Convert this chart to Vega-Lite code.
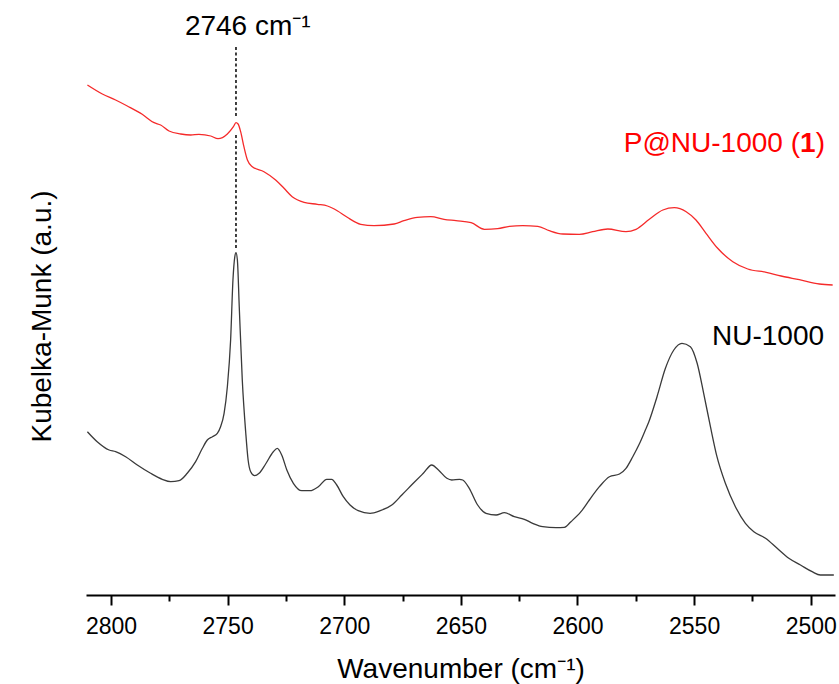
{
  "$schema": "https://vega.github.io/schema/vega-lite/v6.json",
  "autosize": {"type": "none"},
  "padding": {"left": 86, "top": 10, "right": 4, "bottom": 89},
  "width": 749,
  "height": 585,
  "background": "white",
  "config": {"font": "Liberation Sans", "view": {"stroke": null}},
  "datasets": {
    "spectra": [
      {"series": "NU-1000", "wn": 2810.1, "ku": 163.3},
      {"series": "NU-1000", "wn": 2805.9, "ku": 153.3},
      {"series": "NU-1000", "wn": 2800.8, "ku": 145},
      {"series": "NU-1000", "wn": 2798.0, "ku": 143.3},
      {"series": "NU-1000", "wn": 2793.7, "ku": 138.3},
      {"series": "NU-1000", "wn": 2788.7, "ku": 130},
      {"series": "NU-1000", "wn": 2783.0, "ku": 121.7},
      {"series": "NU-1000", "wn": 2778.0, "ku": 115.7},
      {"series": "NU-1000", "wn": 2774.4, "ku": 113.3},
      {"series": "NU-1000", "wn": 2770.8, "ku": 114.3},
      {"series": "NU-1000", "wn": 2767.3, "ku": 121.7},
      {"series": "NU-1000", "wn": 2763.7, "ku": 133.3},
      {"series": "NU-1000", "wn": 2760.8, "ku": 146.7},
      {"series": "NU-1000", "wn": 2758.7, "ku": 155},
      {"series": "NU-1000", "wn": 2756.5, "ku": 158.3},
      {"series": "NU-1000", "wn": 2754.4, "ku": 161.7},
      {"series": "NU-1000", "wn": 2753.0, "ku": 168.3},
      {"series": "NU-1000", "wn": 2751.5, "ku": 181.7},
      {"series": "NU-1000", "wn": 2750.1, "ku": 208.3},
      {"series": "NU-1000", "wn": 2748.7, "ku": 255},
      {"series": "NU-1000", "wn": 2747.7, "ku": 315},
      {"series": "NU-1000", "wn": 2746.9, "ku": 338.3},
      {"series": "NU-1000", "wn": 2746.4, "ku": 342.3},
      {"series": "NU-1000", "wn": 2745.8, "ku": 335},
      {"series": "NU-1000", "wn": 2745.0, "ku": 288.3},
      {"series": "NU-1000", "wn": 2743.7, "ku": 215},
      {"series": "NU-1000", "wn": 2742.2, "ku": 161.7},
      {"series": "NU-1000", "wn": 2741.2, "ku": 135},
      {"series": "NU-1000", "wn": 2740.1, "ku": 123.3},
      {"series": "NU-1000", "wn": 2738.4, "ku": 119.3},
      {"series": "NU-1000", "wn": 2736.5, "ku": 121.7},
      {"series": "NU-1000", "wn": 2733.7, "ku": 131},
      {"series": "NU-1000", "wn": 2730.4, "ku": 143.3},
      {"series": "NU-1000", "wn": 2728.7, "ku": 146.7},
      {"series": "NU-1000", "wn": 2726.8, "ku": 140},
      {"series": "NU-1000", "wn": 2724.6, "ku": 125},
      {"series": "NU-1000", "wn": 2721.8, "ku": 111.7},
      {"series": "NU-1000", "wn": 2718.2, "ku": 104.3},
      {"series": "NU-1000", "wn": 2714.7, "ku": 104.3},
      {"series": "NU-1000", "wn": 2711.1, "ku": 108.3},
      {"series": "NU-1000", "wn": 2707.5, "ku": 115.7},
      {"series": "NU-1000", "wn": 2705.4, "ku": 115.7},
      {"series": "NU-1000", "wn": 2703.2, "ku": 110},
      {"series": "NU-1000", "wn": 2700.4, "ku": 98.3},
      {"series": "NU-1000", "wn": 2697.5, "ku": 90},
      {"series": "NU-1000", "wn": 2694.0, "ku": 84.3},
      {"series": "NU-1000", "wn": 2688.9, "ku": 81.7},
      {"series": "NU-1000", "wn": 2684.6, "ku": 84.3},
      {"series": "NU-1000", "wn": 2679.6, "ku": 90},
      {"series": "NU-1000", "wn": 2675.3, "ku": 100},
      {"series": "NU-1000", "wn": 2670.4, "ku": 111.7},
      {"series": "NU-1000", "wn": 2666.1, "ku": 121.7},
      {"series": "NU-1000", "wn": 2662.5, "ku": 130},
      {"series": "NU-1000", "wn": 2659.6, "ku": 125},
      {"series": "NU-1000", "wn": 2656.0, "ku": 116.7},
      {"series": "NU-1000", "wn": 2653.9, "ku": 115},
      {"series": "NU-1000", "wn": 2650.6, "ku": 115.7},
      {"series": "NU-1000", "wn": 2649.2, "ku": 115},
      {"series": "NU-1000", "wn": 2646.4, "ku": 106.7},
      {"series": "NU-1000", "wn": 2642.8, "ku": 90},
      {"series": "NU-1000", "wn": 2639.2, "ku": 81.7},
      {"series": "NU-1000", "wn": 2634.9, "ku": 80},
      {"series": "NU-1000", "wn": 2631.3, "ku": 82.3},
      {"series": "NU-1000", "wn": 2627.1, "ku": 78.3},
      {"series": "NU-1000", "wn": 2622.8, "ku": 75.7},
      {"series": "NU-1000", "wn": 2619.2, "ku": 71.7},
      {"series": "NU-1000", "wn": 2614.9, "ku": 68.3},
      {"series": "NU-1000", "wn": 2609.2, "ku": 67.3},
      {"series": "NU-1000", "wn": 2605.6, "ku": 67.7},
      {"series": "NU-1000", "wn": 2602.8, "ku": 73.3},
      {"series": "NU-1000", "wn": 2598.5, "ku": 83.3},
      {"series": "NU-1000", "wn": 2594.9, "ku": 95},
      {"series": "NU-1000", "wn": 2590.6, "ku": 108.3},
      {"series": "NU-1000", "wn": 2586.3, "ku": 118.3},
      {"series": "NU-1000", "wn": 2582.0, "ku": 121},
      {"series": "NU-1000", "wn": 2579.2, "ku": 126.7},
      {"series": "NU-1000", "wn": 2576.3, "ku": 138.3},
      {"series": "NU-1000", "wn": 2573.5, "ku": 151},
      {"series": "NU-1000", "wn": 2570.9, "ku": 165},
      {"series": "NU-1000", "wn": 2569.4, "ku": 173.3},
      {"series": "NU-1000", "wn": 2565.9, "ku": 198.3},
      {"series": "NU-1000", "wn": 2562.3, "ku": 226.7},
      {"series": "NU-1000", "wn": 2558.7, "ku": 245},
      {"series": "NU-1000", "wn": 2555.2, "ku": 251.7},
      {"series": "NU-1000", "wn": 2551.6, "ku": 248.3},
      {"series": "NU-1000", "wn": 2548.7, "ku": 231.7},
      {"series": "NU-1000", "wn": 2545.9, "ku": 201.7},
      {"series": "NU-1000", "wn": 2543.0, "ku": 168.3},
      {"series": "NU-1000", "wn": 2540.2, "ku": 138.3},
      {"series": "NU-1000", "wn": 2536.6, "ku": 111.7},
      {"series": "NU-1000", "wn": 2532.3, "ku": 88.3},
      {"series": "NU-1000", "wn": 2528.0, "ku": 71.7},
      {"series": "NU-1000", "wn": 2524.4, "ku": 63.3},
      {"series": "NU-1000", "wn": 2519.4, "ku": 56.7},
      {"series": "NU-1000", "wn": 2514.4, "ku": 46.7},
      {"series": "NU-1000", "wn": 2509.4, "ku": 36.7},
      {"series": "NU-1000", "wn": 2504.4, "ku": 30},
      {"series": "NU-1000", "wn": 2499.4, "ku": 23.3},
      {"series": "NU-1000", "wn": 2495.9, "ku": 20},
      {"series": "NU-1000", "wn": 2490.1, "ku": 20},
      {"series": "P@NU-1000 (1)", "wn": 2810.1, "ku": 510},
      {"series": "P@NU-1000 (1)", "wn": 2803.7, "ku": 501},
      {"series": "P@NU-1000 (1)", "wn": 2798.0, "ku": 495},
      {"series": "P@NU-1000 (1)", "wn": 2793.0, "ku": 489},
      {"series": "P@NU-1000 (1)", "wn": 2786.6, "ku": 480.7},
      {"series": "P@NU-1000 (1)", "wn": 2781.5, "ku": 472.3},
      {"series": "P@NU-1000 (1)", "wn": 2778.7, "ku": 470},
      {"series": "P@NU-1000 (1)", "wn": 2775.1, "ku": 464},
      {"series": "P@NU-1000 (1)", "wn": 2770.1, "ku": 461},
      {"series": "P@NU-1000 (1)", "wn": 2765.8, "ku": 460},
      {"series": "P@NU-1000 (1)", "wn": 2762.3, "ku": 460.7},
      {"series": "P@NU-1000 (1)", "wn": 2757.2, "ku": 459},
      {"series": "P@NU-1000 (1)", "wn": 2754.1, "ku": 456.3},
      {"series": "P@NU-1000 (1)", "wn": 2750.1, "ku": 461},
      {"series": "P@NU-1000 (1)", "wn": 2747.5, "ku": 468.3},
      {"series": "P@NU-1000 (1)", "wn": 2746.4, "ku": 472.3},
      {"series": "P@NU-1000 (1)", "wn": 2745.5, "ku": 471},
      {"series": "P@NU-1000 (1)", "wn": 2744.4, "ku": 463.3},
      {"series": "P@NU-1000 (1)", "wn": 2743.0, "ku": 448.3},
      {"series": "P@NU-1000 (1)", "wn": 2741.5, "ku": 435},
      {"series": "P@NU-1000 (1)", "wn": 2739.4, "ku": 428.3},
      {"series": "P@NU-1000 (1)", "wn": 2734.4, "ku": 423.3},
      {"series": "P@NU-1000 (1)", "wn": 2729.4, "ku": 415},
      {"series": "P@NU-1000 (1)", "wn": 2725.8, "ku": 406.7},
      {"series": "P@NU-1000 (1)", "wn": 2722.3, "ku": 398.3},
      {"series": "P@NU-1000 (1)", "wn": 2717.2, "ku": 392.7},
      {"series": "P@NU-1000 (1)", "wn": 2711.5, "ku": 390.7},
      {"series": "P@NU-1000 (1)", "wn": 2707.2, "ku": 389},
      {"series": "P@NU-1000 (1)", "wn": 2703.0, "ku": 384.3},
      {"series": "P@NU-1000 (1)", "wn": 2698.7, "ku": 377.7},
      {"series": "P@NU-1000 (1)", "wn": 2692.9, "ku": 370.7},
      {"series": "P@NU-1000 (1)", "wn": 2687.2, "ku": 369.3},
      {"series": "P@NU-1000 (1)", "wn": 2678.6, "ku": 371},
      {"series": "P@NU-1000 (1)", "wn": 2674.4, "ku": 374.3},
      {"series": "P@NU-1000 (1)", "wn": 2668.7, "ku": 377.7},
      {"series": "P@NU-1000 (1)", "wn": 2662.9, "ku": 378.3},
      {"series": "P@NU-1000 (1)", "wn": 2657.2, "ku": 375.7},
      {"series": "P@NU-1000 (1)", "wn": 2652.1, "ku": 374.3},
      {"series": "P@NU-1000 (1)", "wn": 2645.6, "ku": 372.3},
      {"series": "P@NU-1000 (1)", "wn": 2639.9, "ku": 365.7},
      {"series": "P@NU-1000 (1)", "wn": 2634.2, "ku": 366.3},
      {"series": "P@NU-1000 (1)", "wn": 2629.2, "ku": 368.7},
      {"series": "P@NU-1000 (1)", "wn": 2623.5, "ku": 369.3},
      {"series": "P@NU-1000 (1)", "wn": 2617.0, "ku": 368.7},
      {"series": "P@NU-1000 (1)", "wn": 2612.1, "ku": 364.3},
      {"series": "P@NU-1000 (1)", "wn": 2606.3, "ku": 361},
      {"series": "P@NU-1000 (1)", "wn": 2599.2, "ku": 360.7},
      {"series": "P@NU-1000 (1)", "wn": 2593.5, "ku": 363.3},
      {"series": "P@NU-1000 (1)", "wn": 2587.0, "ku": 366},
      {"series": "P@NU-1000 (1)", "wn": 2579.2, "ku": 363.3},
      {"series": "P@NU-1000 (1)", "wn": 2574.9, "ku": 365.7},
      {"series": "P@NU-1000 (1)", "wn": 2569.2, "ku": 375.7},
      {"series": "P@NU-1000 (1)", "wn": 2563.4, "ku": 385},
      {"series": "P@NU-1000 (1)", "wn": 2558.5, "ku": 387.3},
      {"series": "P@NU-1000 (1)", "wn": 2553.4, "ku": 383.3},
      {"series": "P@NU-1000 (1)", "wn": 2549.2, "ku": 375},
      {"series": "P@NU-1000 (1)", "wn": 2544.9, "ku": 361.7},
      {"series": "P@NU-1000 (1)", "wn": 2539.9, "ku": 346.7},
      {"series": "P@NU-1000 (1)", "wn": 2533.4, "ku": 333.3},
      {"series": "P@NU-1000 (1)", "wn": 2527.0, "ku": 326},
      {"series": "P@NU-1000 (1)", "wn": 2519.1, "ku": 322.7},
      {"series": "P@NU-1000 (1)", "wn": 2512.7, "ku": 319},
      {"series": "P@NU-1000 (1)", "wn": 2504.9, "ku": 315.3},
      {"series": "P@NU-1000 (1)", "wn": 2496.3, "ku": 311},
      {"series": "P@NU-1000 (1)", "wn": 2490.6, "ku": 310}
    ],
    "marker": [
      {"wn": 2746.4, "top": 548, "bottom": 478},
      {"wn": 2746.4, "top": 460, "bottom": 345}
    ]
  },
  "layer": [
    {
      "data": {"name": "spectra"},
      "mark": {"type": "line", "strokeWidth": 1.3, "interpolate": "monotone", "clip": true},
      "encoding": {
        "x": {
          "field": "wn", "type": "quantitative",
          "scale": {"domain": [2489.6, 2810.7], "reverse": true, "nice": false, "zero": false},
          "axis": {
            "title": "Wavenumber (cm⁻¹)",
            "values": [2500, 2525, 2550, 2575, 2600, 2625, 2650, 2675, 2700, 2725, 2750, 2775, 2800],
            "labelExpr": "datum.value % 50 === 0 ? datum.label : ''",
            "format": "d",
            "grid": false,
            "domainColor": "black", "domainWidth": 2,
            "tickColor": "black", "tickWidth": 2,
            "tickSize": {"condition": {"test": "datum.value % 50 === 0", "value": 10}, "value": 6},
            "labelFontSize": 23, "labelColor": "black", "labelBaseline": "alphabetic", "labelPadding": 28,
            "labelFlush": false, "labelOverlap": false,
            "titleFontSize": 28, "titleFontWeight": "normal", "titleColor": "black",
            "titleBaseline": "alphabetic", "titleY": 82
          }
        },
        "y": {
          "field": "ku", "type": "quantitative",
          "scale": {"domain": [0, 585], "nice": false, "zero": false},
          "axis": {
            "title": "Kubelka-Munk (a.u.)",
            "domain": false, "ticks": false, "labels": false, "grid": false,
            "titleFontSize": 28, "titleFontWeight": "normal", "titleColor": "black",
            "titleAngle": -90, "titleBaseline": "alphabetic", "titleAlign": "center",
            "titleX": -36, "titleY": 306
          }
        },
        "color": {
          "field": "series", "type": "nominal",
          "scale": {"domain": ["NU-1000", "P@NU-1000 (1)"], "range": ["#3a3a3a", "#f52a2a"]},
          "legend": null
        }
      }
    },
    {
      "data": {"name": "marker"},
      "mark": {"type": "rule", "color": "black", "strokeWidth": 1.5, "strokeDash": [3, 2.5]},
      "encoding": {
        "x": {"field": "wn", "type": "quantitative"},
        "y": {"field": "top", "type": "quantitative"},
        "y2": {"field": "bottom"}
      }
    },
    {
      "data": {"values": [{"wn": 2768.3, "ku": 560, "label": "2746 cm⁻¹"}]},
      "mark": {"type": "text", "align": "left", "baseline": "alphabetic", "fontSize": 28, "color": "black"},
      "encoding": {
        "x": {"field": "wn", "type": "quantitative"},
        "y": {"field": "ku", "type": "quantitative"},
        "text": {"field": "label"}
      }
    },
    {
      "data": {"values": [{"wn": 2494.3, "ku": 250, "label": "NU-1000"}]},
      "mark": {"type": "text", "align": "right", "baseline": "alphabetic", "fontSize": 28, "color": "black"},
      "encoding": {
        "x": {"field": "wn", "type": "quantitative"},
        "y": {"field": "ku", "type": "quantitative"},
        "text": {"field": "label"}
      }
    },
    {
      "data": {"values": [{"wn": 2504.6, "ku": 443, "label": "P@NU-1000 ("}]},
      "mark": {"type": "text", "align": "right", "baseline": "alphabetic", "fontSize": 28, "color": "#ff0000"},
      "encoding": {
        "x": {"field": "wn", "type": "quantitative"},
        "y": {"field": "ku", "type": "quantitative"},
        "text": {"field": "label"}
      }
    },
    {
      "data": {"values": [{"wn": 2504.6, "ku": 443, "label": "1"}]},
      "mark": {"type": "text", "align": "left", "baseline": "alphabetic", "fontSize": 28, "fontWeight": "bold", "color": "#ff0000"},
      "encoding": {
        "x": {"field": "wn", "type": "quantitative"},
        "y": {"field": "ku", "type": "quantitative"},
        "text": {"field": "label"}
      }
    },
    {
      "data": {"values": [{"wn": 2497.9, "ku": 443, "label": ")"}]},
      "mark": {"type": "text", "align": "left", "baseline": "alphabetic", "fontSize": 28, "color": "#ff0000"},
      "encoding": {
        "x": {"field": "wn", "type": "quantitative"},
        "y": {"field": "ku", "type": "quantitative"},
        "text": {"field": "label"}
      }
    }
  ]
}
